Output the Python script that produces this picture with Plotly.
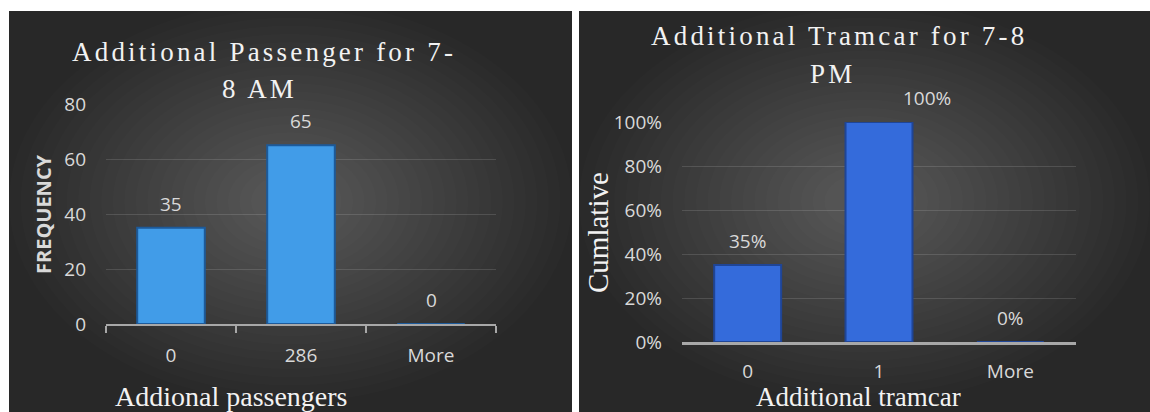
import plotly.graph_objects as go

W, H = 1150, 412

# ---- data ----
left_categories = ["0", "286", "More"]
left_frequency = [35, 65, 0]
right_categories = ["0", "1", "More"]
right_cumulative = [0.35, 1.00, 0.00]
left_yticks = [0, 20, 40, 60, 80]
right_yticks = [0, 0.2, 0.4, 0.6, 0.8, 1.0]

left_title = ["Additional Passenger for 7-", "8 AM"]
right_title = ["Additional Tramcar for 7-8", "PM"]
left_xtitle = "Addional passengers"
right_xtitle = "Additional tramcar"
left_ytitle = "FREQUENCY"
right_ytitle = "Cumlative"


def px(x):
    return x / W


def py(y):
    return 1 - y / H


SANS = "Open Sans"
SERIF = "Liberation Serif"
TXT = "#d9d9d9"

fig = go.Figure()

fig.add_trace(go.Bar(
    x=left_categories, y=left_frequency, xaxis="x", yaxis="y", width=0.52,
    marker=dict(color="#419ce8", line=dict(color="#1c5a9a", width=2)),
    showlegend=False, hoverinfo="x+y"))
fig.add_trace(go.Bar(
    x=right_categories, y=right_cumulative, xaxis="x2", yaxis="y2", width=0.51,
    marker=dict(color="#346bdb", line=dict(color="#1f4596", width=2)),
    showlegend=False, hoverinfo="x+y"))

# ---- background panels with soft radial glow ----
shapes = []
panels = [(9, 11, 572, 412), (579, 11, 1150, 412)]
for (x0, y0, x1, y1) in panels:
    shapes.append(dict(type="rect", xref="paper", yref="paper", layer="below",
                       x0=px(x0), x1=px(x1), y0=py(y1), y1=py(y0),
                       fillcolor="#282828", line=dict(width=0)))
    cx, cy = (x0 + x1) / 2, (y0 + y1) / 2 - 10
    rx, ry = (x1 - x0) / 2, (y1 - y0) / 2
    n = 22
    for i in range(n):
        s = 1.0 - i * (0.9 / n)
        shapes.append(dict(type="circle", xref="paper", yref="paper", layer="below",
                           x0=px(cx - rx * s), x1=px(cx + rx * s),
                           y0=py(cy + ry * s), y1=py(cy - ry * s),
                           fillcolor="rgba(255,255,255,0.013)", line=dict(width=0)))

ann = []
# titles (two lines each)
title_style = '<span style="letter-spacing:3.2px">{}</span>'
for text, (cx, cy) in zip(left_title, [(264, 52), (259, 89)]):
    ann.append(dict(text=title_style.format(text), x=px(cx), y=py(cy), xref="paper", yref="paper",
                    showarrow=False, xanchor="center", yanchor="middle",
                    font=dict(family=SERIF, size=27, color="#f2f2f2")))
for text, (cx, cy) in zip(right_title, [(839, 36), (833, 74)]):
    ann.append(dict(text=title_style.format(text), x=px(cx), y=py(cy), xref="paper", yref="paper",
                    showarrow=False, xanchor="center", yanchor="middle",
                    font=dict(family=SERIF, size=27, color="#f2f2f2")))

# axis titles
ann.append(dict(text=left_xtitle, x=px(231), y=py(396), xref="paper", yref="paper", showarrow=False,
                xanchor="center", yanchor="middle", font=dict(family=SERIF, size=28, color="#f2f2f2")))
ann.append(dict(text=right_xtitle, x=px(858), y=py(397), xref="paper", yref="paper", showarrow=False,
                xanchor="center", yanchor="middle", font=dict(family=SERIF, size=27, color="#f2f2f2")))
ann.append(dict(text="<b>" + left_ytitle + "</b>", x=px(43), y=py(214), xref="paper", yref="paper",
                showarrow=False, textangle=-90, xanchor="center", yanchor="middle",
                font=dict(family=SANS, size=20, color=TXT)))
ann.append(dict(text=right_ytitle, x=px(598), y=py(233), xref="paper", yref="paper",
                showarrow=False, textangle=-90, xanchor="center", yanchor="middle",
                font=dict(family=SERIF, size=29, color="#f2f2f2")))

# data labels (category index used as x position)
for i, v in enumerate(left_frequency):
    ann.append(dict(text=str(v), x=i, y=v, xref="x", yref="y", showarrow=False, yshift=24,
                    xanchor="center", yanchor="middle", font=dict(family=SANS, size=19, color=TXT)))
for i, v in enumerate(right_cumulative):
    ann.append(dict(text=f"{v:.0%}", x=i, y=v, xref="x2", yref="y2", showarrow=False, yshift=24,
                    xshift=48 if v >= 1 else 0,
                    xanchor="center", yanchor="middle", font=dict(family=SANS, size=19, color=TXT)))

grid = "rgba(255,255,255,0.13)"
fig.update_layout(
    width=W, height=H, margin=dict(l=0, r=0, t=0, b=0, autoexpand=False),
    paper_bgcolor="white", plot_bgcolor="rgba(0,0,0,0)",
    shapes=shapes, annotations=ann, showlegend=False,
    xaxis=dict(domain=[px(106), px(496)], anchor="y", type="category", range=[-0.5, 2.5],
               automargin=False, tickangle=0,
               showline=True, linecolor="#a8a8a8", linewidth=2,
               ticks="outside", ticklen=7, tickwidth=2, tickcolor="#a8a8a8", tickson="boundaries",
               showgrid=False, ticklabelstandoff=13,
               tickfont=dict(family=SANS, size=19, color=TXT)),
    yaxis=dict(domain=[py(324), py(104)], anchor="x", range=[0, 80], tickvals=left_yticks,
               automargin=False,
               showgrid=True, gridcolor=grid, gridwidth=1, zeroline=False, showline=False,
               ticks="", ticklabelstandoff=19,
               tickfont=dict(family=SANS, size=19, color=TXT)),
    xaxis2=dict(domain=[px(682), px(1076)], anchor="y2", type="category", range=[-0.5, 2.5],
                automargin=False, tickangle=0,
                showline=True, linecolor="#a8a8a8", linewidth=3, ticks="",
                showgrid=False, ticklabelstandoff=10,
                tickfont=dict(family=SANS, size=19, color=TXT)),
    yaxis2=dict(domain=[py(342), py(122)], anchor="x2", range=[0, 1.0], tickvals=right_yticks,
                tickformat=".0%", automargin=False,
                showgrid=True, gridcolor=grid, gridwidth=1, zeroline=False, showline=False,
                ticks="", ticklabelstandoff=19,
                tickfont=dict(family=SANS, size=19, color=TXT)),
)

fig.write_html("out.html", config={"displayModeBar": False},
               post_script="document.body.style.margin='0';document.body.style.overflow='hidden';")
